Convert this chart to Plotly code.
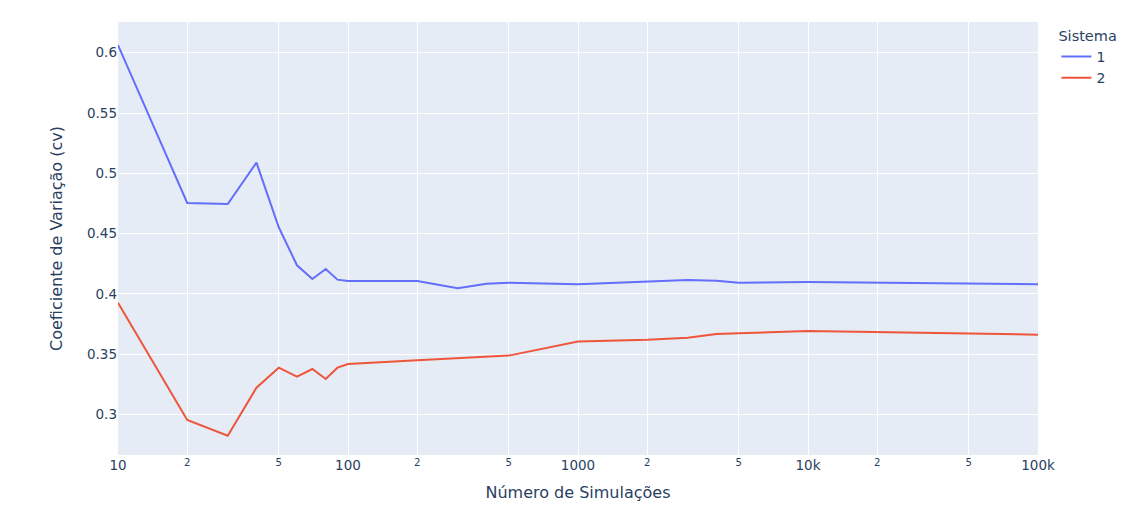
import plotly.graph_objects as go

# Number of simulations (x) and coefficient of variation per system
sim_sistema1 = [10, 20, 30, 40, 50, 60, 70, 80, 90, 100, 200, 300, 400, 500,
                1000, 2000, 3000, 4000, 5000, 10000, 100000]
cv_sistema1 = [0.6064, 0.4755, 0.4746, 0.5089, 0.4553, 0.4238, 0.4124, 0.4207,
               0.4119, 0.4108, 0.4108, 0.4047, 0.4085, 0.4094,
               0.4080, 0.4100, 0.4116, 0.4110, 0.4094, 0.4100, 0.4080]

sim_sistema2 = [10, 20, 30, 40, 50, 60, 70, 80, 90, 100, 200, 500,
                1000, 2000, 3000, 4000, 5000, 10000, 100000]
cv_sistema2 = [0.3928, 0.2955, 0.2825, 0.3223, 0.3389, 0.3314, 0.3378, 0.3295,
               0.3389, 0.3420, 0.3450, 0.3489,
               0.3605, 0.3621, 0.3638, 0.3668, 0.3674, 0.3693, 0.3663]

fig = go.Figure()
fig.add_trace(go.Scatter(x=sim_sistema1, y=cv_sistema1, mode="lines", name="1",
                         line=dict(color="#636efa", width=2)))
fig.add_trace(go.Scatter(x=sim_sistema2, y=cv_sistema2, mode="lines", name="2",
                         line=dict(color="#EF553B", width=2)))

fig.update_layout(
    template="plotly",
    width=1138, height=508,
    font=dict(family="DejaVu Sans", size=13.5),
    margin=dict(l=118, r=100, t=22, b=53),
    legend=dict(title=dict(text="Sistema", font=dict(size=14.5)), font=dict(size=14)),
    xaxis=dict(type="log", title=dict(text="Número de Simulações", font=dict(size=16)),
               range=[1, 5], automargin=False),
    yaxis=dict(title=dict(text="Coeficiente de Variação (cv)", font=dict(size=16),
                          standoff=20),
               range=[0.2665, 0.6255], automargin=False),
)

fig.write_html("out.html")
